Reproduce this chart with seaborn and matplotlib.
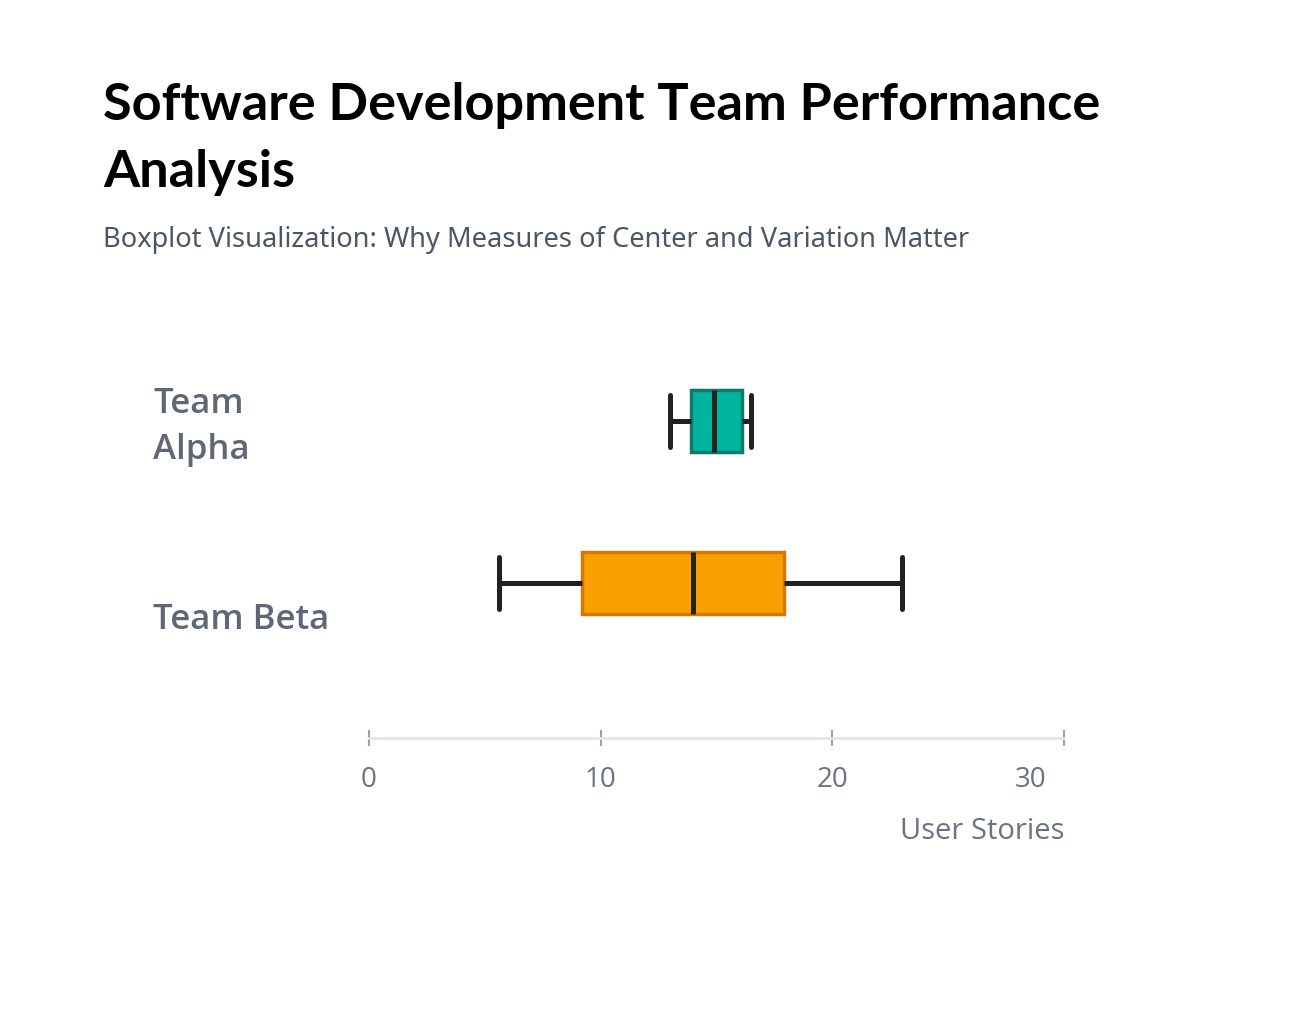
import numpy as np
import pandas as pd
import matplotlib
matplotlib.use("Agg")
import matplotlib.pyplot as plt
import matplotlib.transforms as mtransforms
import seaborn as sns

# ── Data (five-number summaries) ──────────────────────────────────────────────
teams        = ["Team Alpha", "Team Beta"]
team_labels  = ["Team\nAlpha", "Team Beta"]
alpha_values = [13.0, 13.9, 14.9, 16.1, 16.5]
beta_values  = [5.6, 9.2, 14.0, 17.9, 23.0]
x_ticks      = [0, 10, 20, 30]

df = pd.DataFrame({
    "team":  [teams[0]] * len(alpha_values) + [teams[1]] * len(beta_values),
    "stories": alpha_values + beta_values,
})

FILL = {"Team Alpha": "#00b5a0", "Team Beta": "#f8a000"}
EDGE = {"Team Alpha": "#0d7a6c", "Team Beta": "#d97706"}

sns.set_theme(style="white")
plt.rcParams["font.family"] = ["Open Sans", "DejaVu Sans"]

fig = plt.figure(figsize=(12.89, 10.18), dpi=100)
ax = fig.add_axes([369 / 1289, 1 - 738 / 1018, 695 / 1289, 438 / 1018])

sns.boxplot(data=df, x="stories", y="team", order=teams, hue="team",
            palette=FILL, saturation=1, width=0.38, whis=(0, 100),
            linecolor="#222222", linewidth=3.6, legend=False, ax=ax,
            capwidths=0.32)

# box edges in darker tone of each fill
for patch, t in zip([p for p in ax.patches], teams):
    patch.set_edgecolor(EDGE[t])
    patch.set_linewidth(2.5)
    patch.set_zorder(2)
for ln in ax.lines:
    ln.set_zorder(3)

ax.set_xlim(0, 30)
ax.set_ylim(1.957, -0.747)
ax.set_xticks(x_ticks)
ax.set_xticklabels([str(v) for v in x_ticks])
ax.set_yticks([0, 1])
ax.set_yticklabels(team_labels)

for s in ["top", "right", "left"]:
    ax.spines[s].set_visible(False)
ax.spines["bottom"].set_color("#e2e5ea")
ax.spines["bottom"].set_linewidth(2)

ax.tick_params(axis="x", bottom=True, direction="inout", length=11, width=1.5,
               color="#9aa1ad", labelcolor="#6b7280", labelsize=20, pad=15)
ax.tick_params(axis="y", left=False, length=0, labelcolor="#5f6776",
               labelsize=25, pad=0)

ax.set_xlabel("User Stories", fontsize=21, color="#6b7280", loc="right",
              labelpad=16)
ax.set_ylabel("")

for lab in ax.get_yticklabels():
    lab.set_fontweight("semibold")
    lab.set_horizontalalignment("left")
    lab.set_linespacing(1.45)
# y labels sit left-aligned at x=153px, Beta a bit lower than its box
offsets = [(-216, 4), (-216, -33)]
for lab, (dx, dy) in zip(ax.get_yticklabels(), offsets):
    lab.set_transform(lab.get_transform() +
                      mtransforms.ScaledTranslation(dx / 100, dy / 100, fig.dpi_scale_trans))
# last tick label is pulled inside the axis end
xl = ax.get_xticklabels()
xl[-1].set_transform(xl[-1].get_transform() +
                     mtransforms.ScaledTranslation(-0.33, 0, fig.dpi_scale_trans))

fig.text(103 / 1289, 1 - 82 / 1018, "Software Development Team Performance\nAnalysis",
         fontsize=37.6, fontweight="bold", color="#000000", ha="left", va="top",
         linespacing=1.52, family=["Lato", "DejaVu Sans"])
fig.text(103 / 1289, 1 - 226 / 1018,
         "Boxplot Visualization: Why Measures of Center and Variation Matter",
         fontsize=19.6, color="#4b5563", ha="left", va="top",
         family=["Noto Sans", "DejaVu Sans"])

fig.savefig("out.png", dpi=100, facecolor="white")
